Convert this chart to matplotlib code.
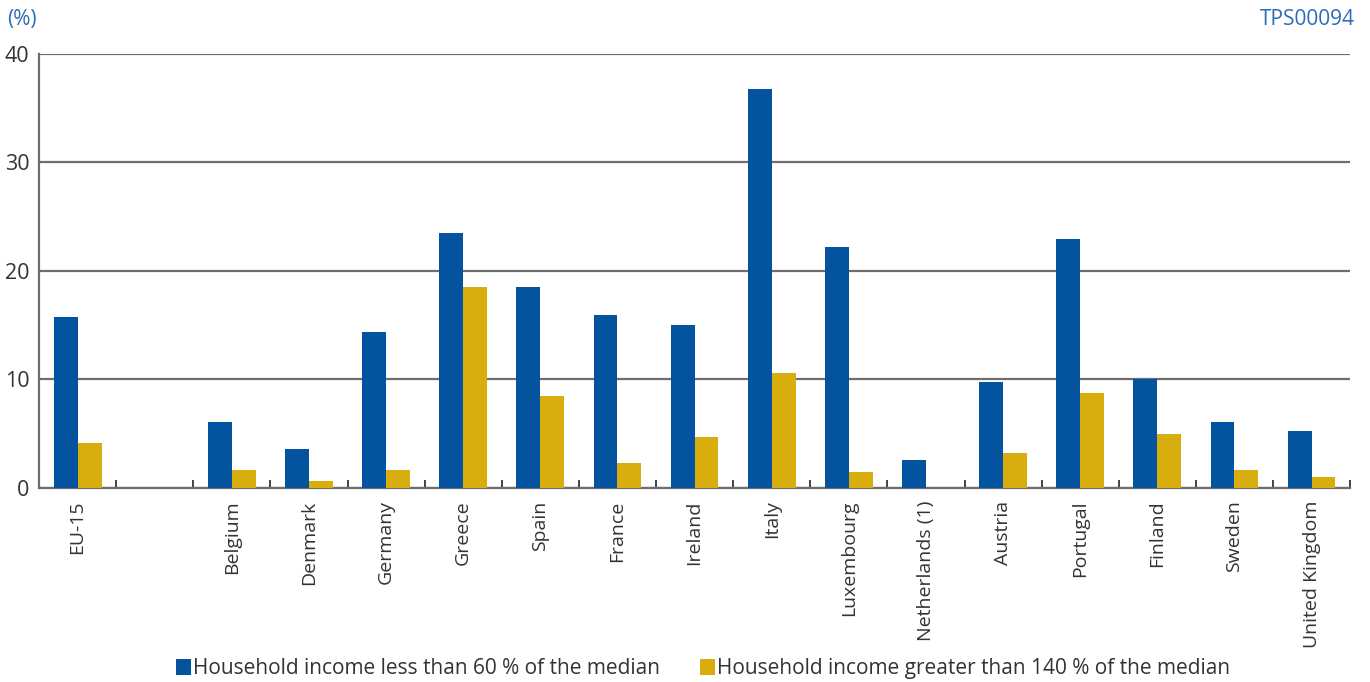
import numpy as np
import matplotlib.pyplot as plt
from matplotlib.ticker import FixedLocator, NullFormatter

plt.rcParams['font.family'] = ['Open Sans', 'DejaVu Sans']

# Dados
paises = ['EU-15', '', 'Belgium', 'Denmark', 'Germany', 'Greece', 'Spain', 'France',
          'Ireland', 'Italy', 'Luxembourg', 'Netherlands (1)', 'Austria', 'Portugal',
          'Finland', 'Sweden', 'United Kingdom']
abaixo_60 = [15.7, np.nan, 6.1, 3.6, 14.4, 23.5, 18.5, 15.9, 15.0, 36.7, 22.2, 2.6,
             9.8, 22.9, 10.0, 6.1, 5.2]
acima_140 = [4.1, np.nan, 1.7, 0.6, 1.7, 18.5, 8.5, 2.3, 4.7, 10.6, 1.5, np.nan,
             3.2, 8.7, 5.0, 1.7, 1.0]
rotulos = ['Household income less than 60 % of the median',
           'Household income greater than 140 % of the median']

azul = '#03539F'
amarelo = '#D8AE0E'
cinza = '#6E6E6E'
texto = '#333333'

fig = plt.figure(figsize=(13.7, 6.82), dpi=100)
ax = fig.add_axes([0.0285, 0.2845, 0.957, 0.637])

x = np.arange(len(paises))
w = 0.31
ax.bar(x - w / 2, abaixo_60, w, color=azul, label=rotulos[0], zorder=3)
ax.bar(x + w / 2, acima_140, w, color=amarelo, label=rotulos[1], zorder=3)

ax.set_xlim(-0.5, len(paises) - 0.5)
ax.set_ylim(0, 40)
ax.set_yticks([0, 10, 20, 30, 40])
ax.grid(axis='y', color=cinza, linewidth=1.6, zorder=1)
ax.tick_params(axis='y', length=0, labelsize=15.5, colors=texto, pad=7)

# ticks nas fronteiras das categorias
ax.xaxis.set_major_locator(FixedLocator(x))
ax.set_xticklabels(paises, rotation=90, fontsize=14, color=texto)
ax.tick_params(axis='x', which='major', length=0, pad=9)
ax.xaxis.set_minor_locator(FixedLocator(np.arange(-0.5, len(paises), 1.0)[1:]))
ax.xaxis.set_minor_formatter(NullFormatter())
ax.tick_params(axis='x', which='minor', direction='in', length=6, width=1.2, color='#222222')

for s in ['top', 'right']:
    ax.spines[s].set_visible(False)
for s in ['left', 'bottom']:
    ax.spines[s].set_color(cinza)
    ax.spines[s].set_linewidth(1.6)

fig.text(0.005, 0.972, '(%)', color='#2B6CB8', fontsize=15, ha='left', va='center')
fig.text(0.989, 0.972, 'TPS00094', color='#2B6CB8', fontsize=15, ha='right', va='center')

fig.legend(loc='center', bbox_to_anchor=(0.513, 0.02), ncol=2, frameon=False,
           fontsize=15, handlelength=0.72, handleheight=0.8, handletextpad=0.1,
           columnspacing=1.9, labelcolor=texto)

fig.savefig('out.png', dpi=100)
